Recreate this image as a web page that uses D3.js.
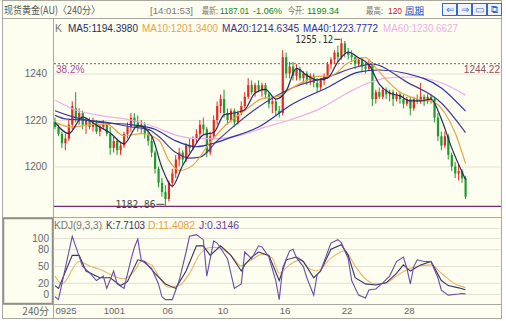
<!DOCTYPE html>
<html>
<head>
<meta charset="utf-8" />
<style>
body{margin:0;background:#fff;}
svg{display:block;}
text{font-family:"Liberation Sans",Arial,sans-serif;}
.cjk{font-family:"Noto Sans CJK SC",sans-serif;}
</style>
<script src="https://cdnjs.cloudflare.com/ajax/libs/d3/7.8.5/d3.min.js"></script>
</head>
<body>
<div id="chart"></div>
<script>

// 240 min candles, 120 bars
var open = [1219,1217,1214,1210,1212,1218,1225,1221,1223,1218,
  1220,1217,1219,1215,1217,1218,1214,1208,1211,1207,
  1209,1214,1217,1221,1219,1217,1218,1214,1211,1206,
  1199,1193,1189,1186,1193,1197,1203,1206,1203,1209,
  1208,1212,1214,1218,1216,1206,1213,1220,1226,1229,
  1223,1220,1224,1219,1223,1226,1230,1235,1232,1235,
  1233,1235,1231,1227,1228,1224,1223,1247,1240,1243,
  1239,1242,1238,1240,1237,1239,1236,1234,1237,1239,
  1244,1246,1249,1247,1253,1249,1248,1247,1244,1246,
  1243,1242,1244,1229,1232,1230,1233,1231,1232,1229,
  1231,1229,1227,1229,1225,1229,1228,1230,1228,1230,
  1229,1221,1213,1209,1213,1205,1200,1197,1198,1195];
var high = [1221,1218,1215,1214,1220,1228,1232,1225,1224,1221,
  1221,1221,1220,1218,1220,1219,1217,1213,1212,1210,
  1215,1219,1223,1223,1222,1220,1219,1216,1213,1207,
  1200,1195,1192,1194,1199,1205,1208,1207,1210,1212,
  1213,1216,1220,1221,1217,1215,1222,1228,1231,1233,
  1225,1225,1225,1224,1228,1232,1238,1237,1236,1237,
  1236,1236,1232,1230,1229,1226,1250,1249,1245,1245,
  1244,1243,1241,1241,1240,1240,1238,1238,1240,1245,
  1247,1250,1252,1255.12,1254,1251,1250,1248,1247,1247,
  1245,1246,1245,1233,1234,1234,1234,1233,1233,1232,
  1232,1231,1230,1230,1230,1231,1236,1231,1231,1231,
  1230,1223,1215,1215,1214,1206,1202,1201,1199,1196];
var low = [1216,1213,1208,1207,1211,1216,1219,1218,1216,1214,
  1216,1215,1214,1213,1216,1213,1205,1206,1205,1205,
  1208,1212,1215,1217,1215,1214,1212,1209,1204,1197,
  1191,1187,1182.86,1185,1191,1195,1200,1201,1202,1206,
  1207,1210,1212,1214,1204,1205,1212,1218,1223,1221,
  1218,1219,1217,1218,1222,1225,1229,1231,1230,1232,
  1230,1229,1225,1223,1222,1221,1222,1238,1238,1237,
  1237,1237,1236,1235,1235,1234,1232,1233,1235,1238,
  1242,1244,1245,1246,1247,1246,1245,1242,1243,1241,
  1240,1241,1226,1227,1229,1229,1229,1228,1226,1228,
  1227,1225,1226,1222,1224,1227,1227,1226,1227,1227,
  1219,1211,1207,1208,1203,1198,1195,1194,1193,1186];
var close = [1217,1214,1210,1212,1218,1226,1221,1223,1218,1220,
  1217,1219,1215,1217,1218,1214,1208,1211,1207,1209,
  1214,1217,1221,1219,1217,1218,1214,1211,1206,1199,
  1193,1189,1186,1193,1197,1203,1206,1203,1209,1208,
  1212,1214,1218,1216,1206,1213,1220,1226,1229,1223,
  1220,1224,1219,1223,1226,1230,1235,1232,1235,1233,
  1235,1231,1227,1228,1224,1223,1247,1240,1243,1239,
  1242,1238,1240,1237,1239,1236,1234,1237,1239,1244,
  1246,1249,1247,1253,1249,1248,1247,1244,1246,1243,
  1242,1244,1229,1232,1230,1233,1231,1232,1229,1231,
  1229,1227,1229,1225,1229,1228,1230,1228,1230,1229,
  1221,1213,1209,1213,1205,1200,1197,1198,1195,1187.01];

// moving averages: [bar index, value]
var ma5 = [[0,1219],[4,1214.2],[8,1221.2],[12,1217.8],[16,1214.4],[20,1209.8],[24,1217.6],[28,1213.2],[31,1199.6],[34,1191.6],[37,1200.4],[40,1207.6],[43,1213.6],[46,1214.6],[49,1222.2],[52,1223],[55,1224.4],[58,1231.6],[61,1233.2],[64,1229],[67,1232.4],[70,1242.2],[73,1239.2],[76,1237.2],[79,1238],[82,1245],[85,1249.2],[88,1246.8],[91,1243.8],[94,1235.4],[97,1231.6],[100,1230.4],[103,1228.2],[106,1228.2],[109,1229],[112,1220.4],[115,1208],[119,1194.4]];
var ma10 = [[0,1219],[5,1217],[10,1217.9],[15,1218.2],[20,1213.2],[25,1214.1],[30,1211.5],[33,1202.6],[36,1198.3],[40,1200.6],[45,1210.5],[50,1218.5],[55,1224],[60,1229.2],[65,1230.3],[68,1233.1],[72,1236.4],[76,1238.8],[80,1239],[85,1244.6],[90,1246.8],[93,1242.4],[96,1237.4],[100,1232],[105,1229],[110,1227.6],[113,1223],[116,1214.5],[119,1201.3]];
var ma20 = [[0,1222],[3,1220.5],[8,1220],[15,1219],[22,1217],[27,1216],[30,1213],[35,1206],[39,1203.6],[42,1204],[47,1211],[50,1215],[59,1225.6],[69,1234],[79,1238.5],[88,1243],[92,1244],[102,1236.3],[112,1227.3],[119,1214.6]];
var ma40 = [[0,1224],[6,1221],[13,1219],[22,1218],[29,1216],[35,1211],[41,1208.5],[46,1210],[50,1212],[59,1217],[69,1227],[79,1234],[88,1240.6],[94,1241.5],[102,1240],[112,1233.8],[119,1223.8]];
var ma60 = [[0,1228.6],[6,1224.3],[13,1222],[22,1220],[29,1217],[35,1213.5],[41,1212],[46,1212],[54,1213.5],[60,1216.5],[68,1220],[77,1225],[84,1231],[91,1236],[96,1238],[103,1238.5],[112,1236],[119,1230.7]];

// KDJ(9,3,3)
var kLine = [[0,15],[1,10],[5,69],[7,69],[9,41],[13,29],[16,29],[19,15],[21,22],[24,61],[26,58],[29,37],[32,18],[35,10],[38,41],[41,86],[43,86],[45,69],[48,86],[51,69],[54,41],[55,52],[57,66],[59,75],[62,69],[65,24],[67,61],[70,66],[72,58],[75,29],[77,41],[80,80],[83,88],[85,69],[87,29],[90,18],[93,16],[96,20],[99,37],[101,52],[103,41],[106,52],[109,58],[112,24],[114,15],[117,11],[119,7.7]];
var dLine = [[0,32],[2,18],[7,58],[10,50],[13,44],[17,32],[20,27],[23,41],[25,58],[28,52],[30,32],[33,12],[36,15],[39,37],[42,71],[45,83],[47,83],[51,69],[54,50],[56,58],[57,61],[60,71],[63,64],[65,37],[68,52],[71,61],[74,44],[76,41],[80,64],[84,77],[87,50],[90,27],[93,18],[96,20],[99,32],[103,46],[109,52],[112,37],[116,18],[119,11.4]];
var jLine = [[0,-5],[1,-10],[5,103],[8,49],[10,38],[12,24],[14,32],[15,10],[17,41],[18,18],[20,10],[22,61],[23,83],[24,98],[25,61],[28,46],[30,18],[31,-5],[32,-10],[34,-10],[36,24],[38,75],[39,103],[41,106],[43,97],[44,32],[46,95],[47,91],[50,63],[52,10],[54,18],[55,75],[57,63],[59,86],[60,84],[62,66],[64,24],[65,-10],[66,46],[68,77],[69,80],[70,65],[72,49],[73,29],[75,-2],[76,35],[77,41],[80,91],[82,97],[83,92],[85,63],[86,24],[88,-2],[90,-7],[91,7],[93,9],[95,20],[97,32],[99,58],[101,66],[102,46],[103,18],[104,49],[105,61],[107,58],[109,58],[111,29],[112,7],[114,-2],[117,0],[118,1],[119,0.3]];

var priceTicks = [1200, 1220, 1240];
var kdjTicks = [0, 20, 50, 80, 100];
var dateIdx = [0, 14, 31, 47, 65, 83, 101];
var dateLabels = ["0925", "1001", "06", "10", "16", "22", "28"];

var w = 506, h = 321;
var svg = d3.select("#chart").append("svg").attr("width", w).attr("height", h);

var x = d3.scaleLinear().domain([0, 119]).range([55, 465.5]);
var y = d3.scaleLinear().domain([1200, 1240]).range([166.5, 73.5]);
var yk = d3.scaleLinear().domain([0, 100]).range([294, 238]);

var bg = "#fdfdf0", border = "#a8a8a0";

// frame
svg.append("rect").attr("x", 2.5).attr("y", 0.5).attr("width", 499).attr("height", 318)
  .attr("fill", bg).attr("stroke", border);
svg.append("line").attr("x1", 2.5).attr("x2", 501.5).attr("y1", 18.5).attr("y2", 18.5).attr("stroke", border);
svg.append("line").attr("x1", 53.5).attr("x2", 53.5).attr("y1", 18.5).attr("y2", 318.5).attr("stroke", border);
svg.append("line").attr("x1", 2.5).attr("x2", 501.5).attr("y1", 217.5).attr("y2", 217.5).attr("stroke", border);
svg.append("line").attr("x1", 2.5).attr("x2", 501.5).attr("y1", 304.5).attr("y2", 304.5).attr("stroke", border);
svg.append("rect").attr("x", 3.5).attr("y", 218.5).attr("width", 49).attr("height", 85)
  .attr("fill", "none").attr("stroke", "#909088").attr("stroke-width", 1.5);

// header
function htext(x, str, col, len, cls, size) {
  var t = svg.append("text").attr("x", x).attr("y", 13.5).attr("fill", col)
    .style("font-size", (size || 9) + "px").text(str);
  if (cls) t.attr("class", cls);
  if (len) t.attr("textLength", len).attr("lengthAdjust", "spacingAndGlyphs");
  return t;
}
htext(4, "现货黄金(AU)〈240分〉", "#555", 96, "cjk", 10.5);
htext(150, "[14:01:53]", "#777", 43);
htext(202, "最新:", "#777", 16, "cjk");
htext(220, "1187.01", "#208020", 29);
htext(253, "-1.06%", "#208020", 29);
htext(288, "今开:", "#777", 16, "cjk");
htext(307, "1199.34", "#208020", 32);
htext(366, "最高:", "#777", 17, "cjk");
htext(388, "120", "#d02020", 14);
htext(405, "周期", "#2050c0", 19, "cjk").attr("text-decoration", "underline");

var btns = ["⇐", "⇒", "▭", "⧉"];
btns.forEach(function (b, i) {
  svg.append("rect").attr("x", 442.5 + i * 15).attr("y", 3.5).attr("width", 14).attr("height", 12)
    .attr("fill", "#eef3ff").attr("stroke", "#3a68c8");
  svg.append("text").attr("x", 449.5 + i * 15).attr("y", 13).attr("text-anchor", "middle")
    .attr("fill", "#3a68c8").style("font-size", "10px").text(b);
});

// grid + axes (main)
var grid = svg.append("g").attr("transform", "translate(53.5,0)")
  .call(d3.axisRight(y).tickValues(priceTicks).tickSize(447).tickFormat(""));
grid.select(".domain").remove();
grid.selectAll("line").attr("stroke", "#e2e2d4");

var yAx = svg.append("g").attr("transform", "translate(53,0)")
  .call(d3.axisLeft(y).tickValues(priceTicks).tickSize(0).tickPadding(6).tickFormat(d3.format("d")));
yAx.select(".domain").remove();
yAx.selectAll("text").attr("fill", "#666").style("font-size", "10px").style("font-family", "Liberation Sans");

// KDJ grid + axis
var kgrid = svg.append("g").attr("transform", "translate(53.5,0)")
  .call(d3.axisRight(yk).tickValues(kdjTicks.concat([118])).tickSize(447).tickFormat(""));
kgrid.select(".domain").remove();
kgrid.selectAll("line").attr("stroke", "#e2e2d4");

var kAx = svg.append("g").attr("transform", "translate(50,0)")
  .call(d3.axisLeft(yk).tickValues(kdjTicks).tickSize(0).tickPadding(1));
kAx.select(".domain").remove();
kAx.selectAll("text").attr("fill", "#666").style("font-size", "10px").style("font-family", "Liberation Sans");

// date axis
var xAx = svg.append("g").attr("transform", "translate(0,305)")
  .call(d3.axisBottom(x).tickValues(dateIdx).tickSize(0).tickPadding(2)
    .tickFormat(function (d, i) { return dateLabels[i]; }));
xAx.select(".domain").remove();
xAx.selectAll("text").attr("text-anchor", "start").attr("fill", "#666")
  .style("font-size", "9.5px").style("font-family", "Liberation Sans");
svg.append("text").attr("class", "cjk").attr("x", 49).attr("y", 315).attr("text-anchor", "end")
  .attr("fill", "#666").style("font-size", "10px").text("240分");

// fib / low lines
svg.append("line").attr("x1", 54).attr("x2", 501).attr("y1", y(1244.22)).attr("y2", y(1244.22))
  .attr("stroke", "#8c4a7c").attr("stroke-dasharray", "2,2");
svg.append("text").attr("x", 56).attr("y", y(1244.22) + 9).attr("fill", "#a05090")
  .style("font-size", "10px").text("38.2%");
svg.append("text").attr("x", 500).attr("y", y(1244.22) + 9).attr("text-anchor", "end").attr("fill", "#905060")
  .style("font-size", "10px").text("1244.22");
svg.append("line").attr("x1", 54).attr("x2", 501).attr("y1", y(1182.86)).attr("y2", y(1182.86))
  .attr("stroke", "#7a2a70").attr("stroke-width", 1.2);

// candles
var bars = d3.range(open.length);
var cg = svg.append("g");
cg.selectAll("line").data(bars).enter().append("line")
  .attr("x1", function (i) { return x(i); }).attr("x2", function (i) { return x(i); })
  .attr("y1", function (i) { return y(high[i]); }).attr("y2", function (i) { return y(low[i]); })
  .attr("stroke", function (i) { return close[i] >= open[i] ? "#e42a20" : "#1e9a2e"; });
cg.selectAll("rect").data(bars).enter().append("rect")
  .attr("x", function (i) { return x(i) - 1; }).attr("width", 2.2)
  .attr("y", function (i) { return y(Math.max(open[i], close[i])); })
  .attr("height", function (i) { return Math.max(1, Math.abs(y(open[i]) - y(close[i]))); })
  .attr("fill", function (i) { return close[i] >= open[i] ? "#e42a20" : "#1e9a2e"; });

// MA lines
var maLine = d3.line().x(function (d) { return x(d[0]); }).y(function (d) { return y(d[1]); })
  .curve(d3.curveMonotoneX);
[[ma60, "#eab0ea"], [ma40, "#2e2ea8"], [ma20, "#4a3c8e"], [ma10, "#eaa24a"], [ma5, "#28285a"]]
  .forEach(function (m) {
    svg.append("path").attr("d", maLine(m[0])).attr("fill", "none").attr("stroke", m[1]).attr("stroke-width", 1.2);
  });

// extreme labels
svg.append("text").attr("x", x(83) - 8).attr("y", y(1255.12) + 4.5).attr("text-anchor", "end")
  .attr("fill", "#333").style("font-size", "10px").style("font-family", "DejaVu Sans Mono")
  .attr("textLength", 38).attr("lengthAdjust", "spacingAndGlyphs").text("1255.12");
svg.append("line").attr("x1", x(83) - 7).attr("x2", x(83) - 1).attr("y1", y(1255.12) + 1).attr("y2", y(1255.12) + 1).attr("stroke", "#333");
svg.append("text").attr("x", x(32) - 10).attr("y", y(1182.86) + 2).attr("text-anchor", "end")
  .attr("fill", "#444").style("font-size", "11px").style("font-family", "DejaVu Sans Mono")
  .attr("textLength", 40).attr("lengthAdjust", "spacingAndGlyphs").text("1182.86");
svg.append("line").attr("x1", x(32) - 9).attr("x2", x(32) - 1).attr("y1", y(1182.86) - 2).attr("y2", y(1182.86) - 2).attr("stroke", "#444");

// KDJ lines
var kdj = d3.line().x(function (d) { return x(d[0]); }).y(function (d) { return yk(d[1]); });
svg.append("path").attr("d", kdj.curve(d3.curveMonotoneX)(dLine)).attr("fill", "none").attr("stroke", "#e8b468").attr("stroke-width", 1.1);
svg.append("path").attr("d", kdj.curve(d3.curveLinear)(kLine)).attr("fill", "none").attr("stroke", "#353560").attr("stroke-width", 1.1);
svg.append("path").attr("d", kdj(jLine)).attr("fill", "none").attr("stroke", "#6a4ca8").attr("stroke-width", 1.1);

// legends
function ltext(parentY, x, str, col, len) {
  return svg.append("text").attr("x", x).attr("y", parentY).attr("fill", col)
    .style("font-size", "10px").attr("textLength", len).attr("lengthAdjust", "spacingAndGlyphs").text(str);
}
ltext(31.5, 55, "K", "#777", 7);
ltext(31.5, 68, "MA5:1194.3980", "#2a2a60", 70);
ltext(31.5, 142, "MA10:1201.3400", "#eaa24a", 76);
ltext(31.5, 222, "MA20:1214.6345", "#3c2e8c", 77);
ltext(31.5, 303, "MA40:1223.7772", "#2e2ea8", 75);
ltext(31.5, 383, "MA60:1230.6627", "#eab0ea", 75);

ltext(229, 54, "KDJ(9,3,3)", "#777", 48);
ltext(229, 106, "K:7.7103", "#353560", 39);
ltext(229, 148, "D:11.4082", "#e8a040", 47);
ltext(229, 199, "J:0.3146", "#6a3ca0", 40);

</script>
</body>
</html>
